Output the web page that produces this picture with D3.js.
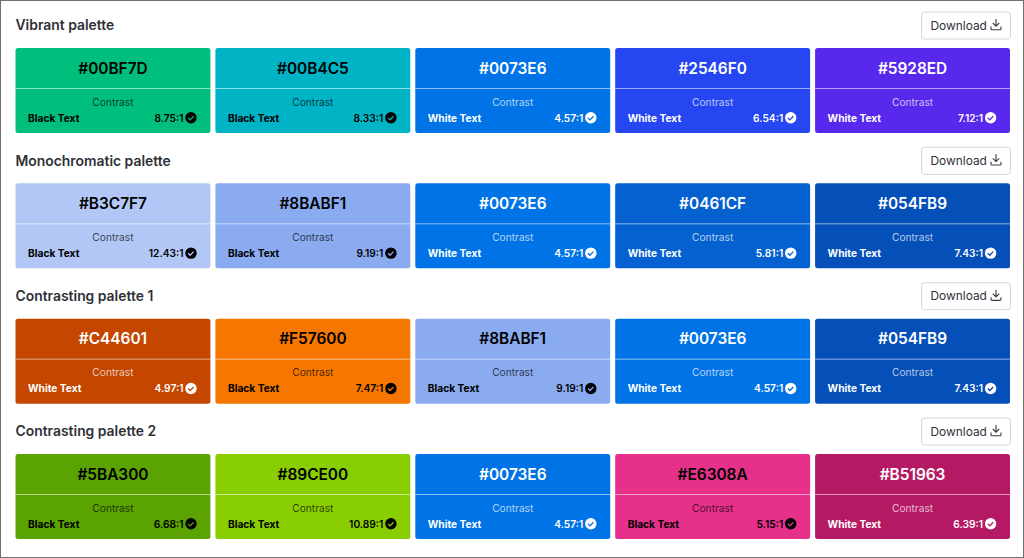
<!DOCTYPE html>
<html>
<head>
<meta charset="utf-8">
<script src="https://cdn.jsdelivr.net/npm/d3@7"></script>
<style>
  html, body { margin: 0; padding: 0; background: #fff; }
  svg { display: block; font-family: Inter, "Noto Sans", sans-serif; }
</style>
</head>
<body>
<svg width="1024" height="558"></svg>
<script>
const paletteNames = ["Vibrant palette", "Monochromatic palette", "Contrasting palette 1", "Contrasting palette 2"];
const hexCodes = [
  ["#00BF7D", "#00B4C5", "#0073E6", "#2546F0", "#5928ED"],
  ["#B3C7F7", "#8BABF1", "#0073E6", "#0461CF", "#054FB9"],
  ["#C44601", "#F57600", "#8BABF1", "#0073E6", "#054FB9"],
  ["#5BA300", "#89CE00", "#0073E6", "#E6308A", "#B51963"]
];
const textColours = [
  ["Black", "Black", "White", "White", "White"],
  ["Black", "Black", "White", "White", "White"],
  ["White", "Black", "Black", "White", "White"],
  ["Black", "Black", "White", "Black", "White"]
];
const ratios = [
  ["8.75:1", "8.33:1", "4.57:1", "6.54:1", "7.12:1"],
  ["12.43:1", "9.19:1", "4.57:1", "5.81:1", "7.43:1"],
  ["4.97:1", "7.47:1", "9.19:1", "4.57:1", "7.43:1"],
  ["6.68:1", "10.89:1", "4.57:1", "5.15:1", "6.39:1"]
];
const columns = d3.range(5);

const svg = d3.select("svg");
const width = +svg.attr("width");
const height = +svg.attr("height");

const x = d3.scaleBand().domain(columns).range([15.5, 1010]).paddingInner(0.025);
const rowTop = d3.scaleLinear().domain([0, 3]).range([48, 454]);
const cardH = 85;
const ink = { Black: "#000", White: "#fff" };

svg.append("rect")
  .attr("x", 0.5).attr("y", 0.5)
  .attr("width", width - 1).attr("height", height - 1)
  .attr("fill", "#fff").attr("stroke", "#6f6f6f");

const rows = svg.selectAll("g.row")
  .data(paletteNames)
  .join("g")
  .attr("class", "row")
  .attr("transform", (d, i) => `translate(0,${rowTop(i)})`);

rows.append("text")
  .attr("x", 15.5).attr("y", -17.8)
  .attr("font-size", 13.9).attr("font-weight", 600)
  .attr("fill", "#2f3137")
  .text(d => d);

// download button
const btn = rows.append("g").attr("transform", "translate(921,-36.5)");
btn.append("rect")
  .attr("x", 0.5).attr("y", 0.5)
  .attr("width", 89).attr("height", 27).attr("rx", 3)
  .attr("fill", "#fff").attr("stroke", "#d5d6da");
btn.append("text")
  .attr("x", 9.5).attr("y", 18.3)
  .attr("font-size", 11.9).attr("fill", "#2f3137")
  .text("Download");
btn.append("path")
  .attr("d", "M75 7.5v7M71.8 11.5l3.2 3.2 3.2-3.2M70 15v2.2a1 1 0 0 0 1 1h8a1 1 0 0 0 1-1V15")
  .attr("fill", "none").attr("stroke", "#3a3c42").attr("stroke-width", 1.1);

const cards = rows.selectAll("g.card")
  .data((d, i) => columns.map(c => ({
    hex: hexCodes[i][c],
    colour: textColours[i][c],
    ratio: ratios[i][c],
    col: c
  })))
  .join("g")
  .attr("class", "card")
  .attr("transform", d => `translate(${x(d.col)},0)`);

const w = x.bandwidth();

cards.append("rect")
  .attr("width", w).attr("height", cardH).attr("rx", 2.5)
  .attr("fill", d => d.hex);

cards.append("line")
  .attr("x1", 0).attr("x2", w).attr("y1", 40.5).attr("y2", 40.5)
  .attr("stroke", "#fff").attr("stroke-opacity", 0.55);

cards.append("text")
  .attr("x", w / 2).attr("y", 25.5)
  .attr("text-anchor", "middle")
  .attr("font-size", 15.4).attr("font-weight", 600)
  .attr("fill", d => ink[d.colour])
  .text(d => d.hex);

cards.append("text")
  .attr("x", w / 2).attr("y", 57.5)
  .attr("text-anchor", "middle")
  .attr("font-size", 10.2)
  .attr("fill", d => ink[d.colour]).attr("fill-opacity", 0.7)
  .text("Contrast");

cards.append("text")
  .attr("x", 12.5).attr("y", 73.5)
  .attr("font-size", 10.2).attr("font-weight", 700)
  .attr("fill", d => ink[d.colour])
  .text(d => d.colour + " Text");

cards.append("text")
  .attr("x", 168).attr("y", 73.5)
  .attr("text-anchor", "end")
  .attr("font-size", 10.2).attr("font-weight", 600)
  .attr("fill", d => ink[d.colour])
  .text(d => d.ratio);

// tick badge
cards.append("circle")
  .attr("cx", 175.5).attr("cy", 69.8).attr("r", 5.7)
  .attr("fill", d => ink[d.colour]);

cards.append("path")
  .attr("d", "M172.7 69.9l2 2 3.4-3.6")
  .attr("fill", "none")
  .attr("stroke", d => d.hex)
  .attr("stroke-width", 1.3);
</script>
</body>
</html>
